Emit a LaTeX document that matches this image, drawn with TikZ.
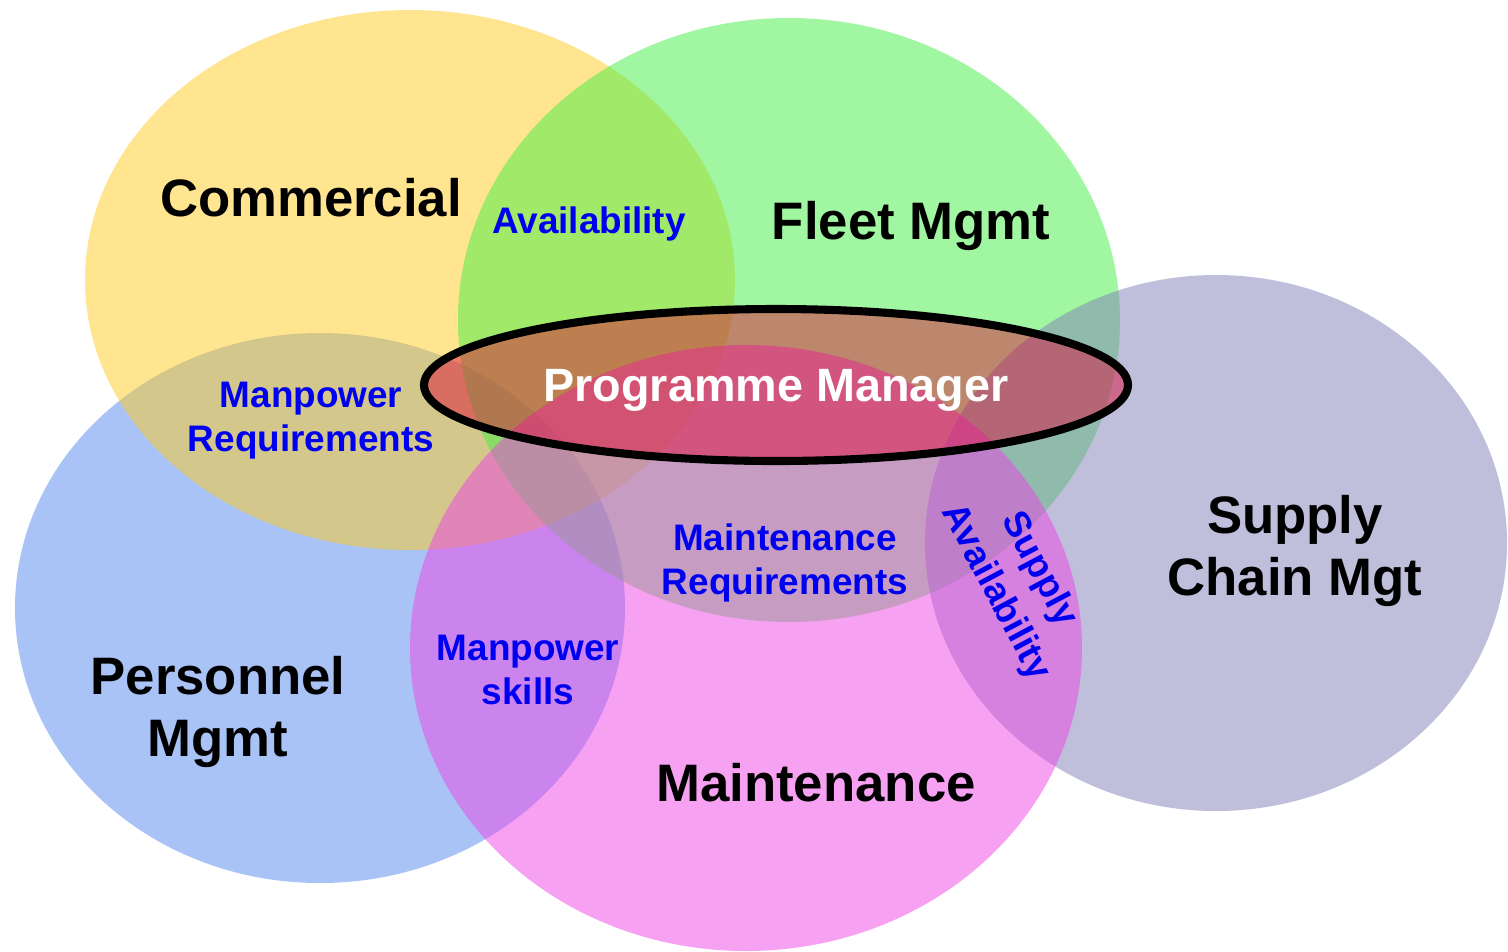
\documentclass[tikz,border=0pt]{standalone}
\usepackage{fontspec}
\setmainfont{Liberation Sans}
\definecolor{cYel}{HTML}{FFCC22}
\definecolor{cGrn}{HTML}{44EE44}
\definecolor{cSup}{HTML}{8080B8}
\definecolor{cBlu}{HTML}{5588EE}
\definecolor{cMag}{HTML}{EE44E6}
\definecolor{cPM}{HTML}{E00030}
\definecolor{cLbl}{HTML}{0000F0}
\tikzset{
  area/.style={fill opacity=0.5},
  bigtxt/.style={font=\fontsize{15}{17.9}\selectfont\bfseries, align=center, text=black, inner sep=0pt},
  smalltxt/.style={font=\fontsize{10.5}{12.5}\selectfont\bfseries, align=center, text=cLbl, inner sep=0pt},
  pmtxt/.style={font=\fontsize{13.3}{15}\selectfont\bfseries, text=white, inner sep=0pt}
}
\begin{document}
\begin{tikzpicture}[x=0.1mm,y=-0.1mm]
\useasboundingbox (0,0) rectangle (1508,951);
\fill[white] (0,0) rectangle (1508,951);
% sets
\fill[cBlu,area] (320,608) ellipse [x radius=305, y radius=275];
\fill[cYel,area] (410,280) ellipse [x radius=325, y radius=270];
\fill[cGrn,area] (789,320) ellipse [x radius=331, y radius=302];
\fill[cSup,area] (1216,543) ellipse [x radius=291, y radius=268];
\fill[cMag,area] (746,648) ellipse [x radius=336, y radius=303];
% programme manager
\draw[line width=2.3pt, fill=cPM, fill opacity=0.45, draw opacity=1] (776,385) ellipse [x radius=352, y radius=76];
% labels
\node[bigtxt] (com) at (311,198) {Commercial};
\node[bigtxt] (flt) at (911,226) {Fleet Mgmt};
\node[bigtxt] (sup) at (1295,551) {Supply\\Chain Mgt};
\node[bigtxt] (per) at (218,712) {Personnel\\Mgmt};
\node[bigtxt] (mnt) at (816,783) {Maintenance};
\node[smalltxt] (av) at (589,224) {Availability};
\node[smalltxt] (mpr) at (311,421) {Manpower\\Requirements};
\node[smalltxt] (mtr) at (785,563) {Maintenance\\Requirements};
\node[smalltxt] (mps) at (528,670) {Manpower\\skills};
\node[smalltxt, font=\fontsize{10.5}{14}\selectfont\bfseries, rotate=-62] (sa) at (1017,581) {Supply\\Availability};
\node[pmtxt] (pm) at (776,390) {Programme Manager};
\end{tikzpicture}
\end{document}
